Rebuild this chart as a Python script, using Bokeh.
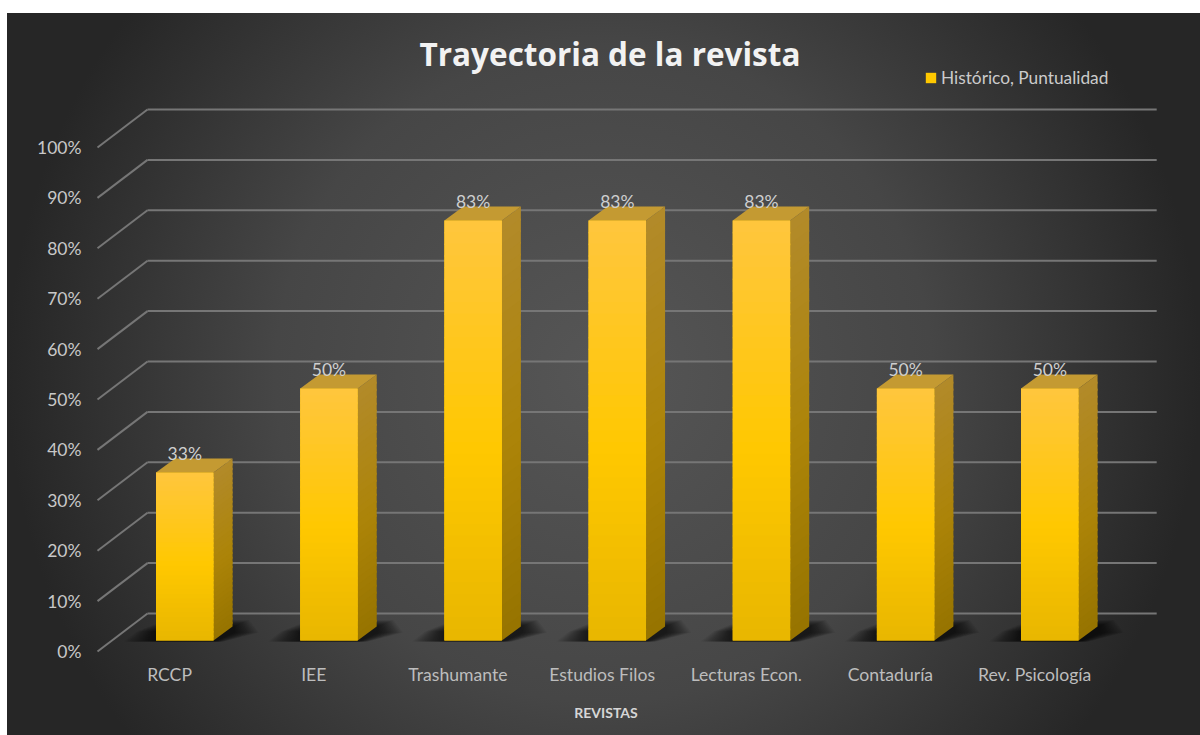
from bokeh.core.properties import value
from bokeh.embed import file_html
from bokeh.models import ColumnDataSource, FixedTicker, Label, Legend, LegendItem, LinearAxis, Range1d
from bokeh.plotting import figure
from bokeh.resources import INLINE

# ---- chart values -------------------------------------------------------
categories = ["RCCP", "IEE", "Trashumante", "Estudios Filos", "Lecturas Econ.", "Contaduría", "Rev. Psicología"]
puntualidad = [33.33, 50, 83.33, 83.33, 83.33, 50, 50]
percent_ticks = [0, 10, 20, 30, 40, 50, 60, 70, 80, 90, 100]
series_name = "Histórico, Puntualidad"
chart_title = "Trayectoria de la revista"
x_title = "REVISTAS"

# ---- scale of the pseudo-3D drawing -------------------------------------
PX_X = 144.17      # pixels per category
PX_Y = 5.04        # pixels per percentage point
FONT = "Lato"


def ux(px):
    return px / PX_X


def uy(px):
    return px / PX_Y


DEPTH_X, DEPTH_Y = ux(50), uy(38)          # floor depth of the chart box
BAR_X, BAR_Y = ux(15.2), uy(11)            # bar front-plane offset into the box
SIDE_X, SIDE_Y = ux(19), uy(14)            # depth of each bar
BAR_W = ux(57.5)


def mix(stops, t):
    for (t0, c0), (t1, c1) in zip(stops, stops[1:]):
        if t <= t1:
            f = (t - t0) / (t1 - t0)
            return "#%02x%02x%02x" % tuple(round(a + (b - a) * f) for a, b in zip(c0, c1))
    return "#%02x%02x%02x" % stops[-1][1]


FRONT_STOPS = [(0, (255, 198, 62)), (0.55, (255, 200, 0)), (1, (232, 182, 0))]
SIDE_STOPS = [(0, (178, 138, 42)), (0.55, (172, 132, 8)), (1, (150, 115, 0))]
TOP_COLOR = "#c49a32"
STRIPS = 36

p = figure(
    width=1193, height=722, output_backend="svg", toolbar_location=None,
    x_range=Range1d(ux(36 - 97), ux(1175 - 97)), y_range=Range1d(uy(651 - 662), uy(651 - 30)),
    min_border_left=29, min_border_right=25, min_border_top=17, min_border_bottom=73,
    x_axis_type=None, y_axis_type=None,
    background_fill_color=None, border_fill_color=None, outline_line_color=None,
)
p.styles = {
    "position": "absolute", "top": "13px", "left": "7px",
    "background": "radial-gradient(circle farthest-side at 50% 50%, #565656 0%, #464646 55%, #262626 100%)",
}
p.grid.visible = False

# axes
y_axis = LinearAxis(
    ticker=FixedTicker(ticks=percent_ticks),
    major_label_overrides={t: f"{t}%" for t in percent_ticks},
    fixed_location=ux(89 - 97),
    axis_line_color=None, major_tick_line_color=None, minor_tick_line_color=None,
    major_tick_out=0, major_tick_in=0, minor_tick_out=0, minor_tick_in=0,
    major_label_standoff=8,
    major_label_text_font=FONT, major_label_text_font_size="17.5px", major_label_text_color="#c8c8c8",
)
p.add_layout(y_axis, "left")

x_positions = [i + 0.5 for i in range(len(categories))]
x_axis = LinearAxis(
    ticker=FixedTicker(ticks=x_positions),
    major_label_overrides=dict(zip(x_positions, categories)),
    axis_line_color=None, major_tick_line_color=None, minor_tick_line_color=None,
    major_tick_out=0, major_tick_in=0, minor_tick_out=0, minor_tick_in=0,
    major_label_standoff=1,
    major_label_text_font=FONT, major_label_text_font_size="17.6px", major_label_text_color="#bdbdbd",
    axis_label=x_title, axis_label_standoff=16,
    axis_label_text_font=FONT, axis_label_text_font_style="bold",
    axis_label_text_font_size="14px", axis_label_text_color="#d6d6d6",
)
p.add_layout(x_axis, "below")

# 3D grid
GRID = "#767676"
p.segment([0] * len(percent_ticks), percent_ticks,
          [DEPTH_X] * len(percent_ticks), [t + DEPTH_Y for t in percent_ticks],
          line_color=GRID, line_width=2)
p.segment([DEPTH_X] * len(percent_ticks), [t + DEPTH_Y for t in percent_ticks],
          [len(categories) + DEPTH_X] * len(percent_ticks), [t + DEPTH_Y for t in percent_ticks],
          line_color=GRID, line_width=2)

# bar geometry
lefts = [i + 0.5 + BAR_X - BAR_W / 2 for i in range(len(categories))]
rights = [l + BAR_W for l in lefts]
base = BAR_Y
tops = [base + v for v in puntualidad]

# floor shadows
for e in range(32, 1, -2):
    xs, ys = [], []
    for l in lefts:
        xs.append([l + ux(-e), l + ux(58 + e * 0.3), l + ux(77 + e * 0.8), l + ux(77 + e * 0.5),
                   l + ux(19 - e * 0.3), l + ux(-e * 0.6)])
        ys.append([base - uy(1), base - uy(1), base + uy(8), base + uy(14 + e * 0.2),
                   base + uy(14 + e * 0.2), base + uy(9)])
    p.patches(xs, ys, fill_color="#000000", fill_alpha=0.055, line_color=None)

# bar sides: each strip overlaps the next one, which paints over it
side_x, side_y, side_c = [], [], []
for l, r, t in zip(lefts, rights, tops):
    for k in range(STRIPS):
        hi = t - (t - base) * k / STRIPS
        lo = max(base, t - (t - base) * (k + 1) / STRIPS - uy(2))
        side_x.append([r, r + SIDE_X, r + SIDE_X, r])
        side_y.append([lo, lo + SIDE_Y, hi + SIDE_Y, hi])
        side_c.append(mix(SIDE_STOPS, (k + 0.5) / STRIPS))
p.patches(side_x, side_y, fill_color=side_c, line_color=None)

# bar tops
p.patches([[l, r, r + SIDE_X, l + SIDE_X] for l, r in zip(lefts, rights)],
          [[t, t, t + SIDE_Y, t + SIDE_Y] for t in tops],
          fill_color=TOP_COLOR, line_color=None)

# bar fronts: one solid base (legend key), gradient strips over it
front = p.quad(left=lefts, right=rights, bottom=[base] * len(lefts), top=tops,
               fill_color="#ffc800", line_color=None)
q_l, q_r, q_t, q_b, q_c = [], [], [], [], []
for l, r, t in zip(lefts, rights, tops):
    for k in range(STRIPS):
        q_l.append(l)
        q_r.append(r)
        q_t.append(t - (t - base) * k / STRIPS)
        q_b.append(max(base, t - (t - base) * (k + 1) / STRIPS - uy(1)))
        q_c.append(mix(FRONT_STOPS, (k + 0.5) / STRIPS))
p.quad(left=q_l, right=q_r, top=q_t, bottom=q_b, fill_color=q_c, line_color=None)

# data labels
labels = ColumnDataSource(dict(
    x=[(l + r) / 2 for l, r in zip(lefts, rights)],
    y=tops,
    t=[f"{v:.0f}%" for v in puntualidad],
))
p.text("x", "y", text="t", source=labels, text_align="center", text_baseline="middle",
       y_offset=-19, text_color="#cfcfcf", text_font=value(FONT), text_font_size="17.5px")

# chart title
p.add_layout(Label(
    x=ux(609.5 - 97), y=uy(651 - 53), text=chart_title, text_align="center", text_baseline="middle",
    text_font="Open Sans", text_font_style="bold", text_font_size="31.5px", text_color="#f2f2f2",
))

# legend
legend = Legend(
    items=[LegendItem(label=series_name, renderers=[front])],
    location=(888, 574), orientation="horizontal",
    background_fill_alpha=0, border_line_color=None,
    margin=0, padding=0, glyph_width=13, glyph_height=13, label_standoff=4,
    label_text_font=FONT, label_text_font_size="17.3px", label_text_color="#cbcbcb",
)
p.add_layout(legend, "center")

open("out.html", "w").write(file_html(p, INLINE))
